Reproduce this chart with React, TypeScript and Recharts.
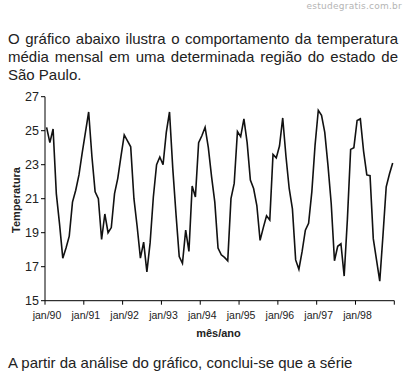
import React from "react";
import { LineChart, Line, XAxis, YAxis } from "recharts";

const years = ["90", "91", "92", "93", "94", "95", "96", "97", "98"];
const t1990 = [25.2, 24.3, 25.1, 21.3, 19.5, 17.5, 18.1, 18.8, 20.8, 21.5, 22.4, 23.7];
const t1991 = [24.9, 26.1, 23.5, 21.4, 21.0, 18.6, 20.1, 19.0, 19.3, 21.3, 22.2, 23.5];
const t1992 = [24.75, 24.4, 24.05, 21.0, 19.35, 17.5, 18.45, 16.7, 18.4, 21.1, 23.0, 23.45];
const t1993 = [23.0, 24.9, 26.1, 22.8, 20.1, 17.6, 17.2, 19.15, 17.9, 21.75, 21.1, 24.3];
const t1994 = [24.7, 25.2, 24.0, 22.3, 20.8, 18.1, 17.7, 17.55, 17.35, 21.0, 21.9, 24.95];
const t1995 = [24.65, 25.7, 24.3, 22.1, 21.6, 20.6, 18.55, 19.3, 20.0, 19.75, 23.6, 23.4];
const t1996 = [24.1, 25.75, 23.5, 21.6, 20.4, 17.4, 16.85, 17.9, 19.15, 19.55, 21.4, 24.15];
const t1997 = [26.2, 25.9, 24.9, 22.95, 20.7, 17.35, 18.2, 18.35, 16.45, 19.8, 23.9, 24.0];
const t1998 = [25.6, 25.7, 23.8, 22.4, 22.35, 18.65, 17.4, 16.15, 18.85, 21.7, 22.45, 23.1];

const series = [t1990, t1991, t1992, t1993, t1994, t1995, t1996, t1997, t1998];
const xTicks = [0, 12, 24, 36, 48, 60, 72, 84, 96, 108];
const xTickLabels = ["jan/90", "jan/91", "jan/92", "jan/93", "jan/94", "jan/95", "jan/96", "jan/97", "jan/98", ""];
const yTicks = [15, 17, 19, 21, 23, 25, 27];

const data = series.flatMap((vals, yi) =>
  vals.map((v, m) => ({ x: yi * 12 + m + 0.5, month: `${m + 1}/${years[yi]}`, temp: v }))
);

const sans = "'Liberation Sans', Arial, Helvetica, sans-serif";

export default function App() {
  return (
    <div style={{ position: "absolute", left: 0, top: 0, width: 403, height: 374, background: "#fff", overflow: "hidden" }}>
      <div
        style={{
          position: "absolute",
          right: 1,
          top: 1.7,
          fontFamily: "'DejaVu Sans', sans-serif",
          fontSize: 9,
          lineHeight: "9px",
          letterSpacing: 0.25,
          color: "#b4b4b4",
          whiteSpace: "nowrap",
        }}
      >
        estudegratis.com.br
      </div>
      <div
        style={{
          position: "absolute",
          left: 8,
          top: 29.5,
          width: 390,
          fontFamily: sans,
          fontSize: 15,
          lineHeight: "18.3px",
          textAlign: "justify",
          color: "#222",
        }}
      >
        O gráfico abaixo ilustra o comportamento da temperatura média mensal em uma determinada região do estado de São Paulo.
      </div>
      <div style={{ position: "absolute", left: 0, top: 0 }}>
        <LineChart width={403} height={374} data={data} margin={{ top: 96.7, right: 8.7, bottom: 43.3, left: 0 }}>
          <XAxis
            dataKey="x"
            type="number"
            domain={[0, 108]}
            ticks={xTicks}
            interval={0}
            tickFormatter={(v: number) => xTickLabels[xTicks.indexOf(v)] ?? ""}
            height={30}
            tickSize={4}
            tickMargin={7}
            axisLine={{ stroke: "#000", strokeWidth: 1 }}
            tickLine={{ stroke: "#000", strokeWidth: 1 }}
            tick={{ fontSize: 10.5, fill: "#222", fontFamily: sans, dx: 2 }}
          />
          <YAxis
            type="number"
            domain={[15, 27]}
            ticks={yTicks}
            interval={0}
            width={45}
            tickSize={4}
            tickMargin={2}
            axisLine={{ stroke: "#000", strokeWidth: 1 }}
            tickLine={{ stroke: "#000", strokeWidth: 1 }}
            tick={{ fontSize: 12.5, fill: "#222", fontFamily: sans }}
          />
          <Line
            type="linear"
            dataKey="temp"
            stroke="#111"
            strokeWidth={1.6}
            dot={false}
            activeDot={false}
            isAnimationActive={false}
          />
        </LineChart>
      </div>
      <div
        style={{
          position: "absolute",
          left: 16,
          top: 200,
          transform: "translate(-50%, -50%) rotate(-90deg)",
          fontFamily: sans,
          fontSize: 11,
          fontWeight: "bold",
          color: "#222",
          whiteSpace: "nowrap",
          lineHeight: "12px",
        }}
      >
        Temperatura
      </div>
      <div
        style={{
          position: "absolute",
          left: 218.5,
          top: 327,
          transform: "translateX(-50%)",
          fontFamily: sans,
          fontSize: 11,
          fontWeight: "bold",
          color: "#222",
          whiteSpace: "nowrap",
          lineHeight: "12px",
        }}
      >
        mês/ano
      </div>
      <div
        style={{
          position: "absolute",
          left: 8,
          top: 354,
          fontFamily: sans,
          fontSize: 15,
          lineHeight: "18px",
          color: "#222",
          whiteSpace: "nowrap",
        }}
      >
        A partir da análise do gráfico, conclui-se que a série
      </div>
    </div>
  );
}
